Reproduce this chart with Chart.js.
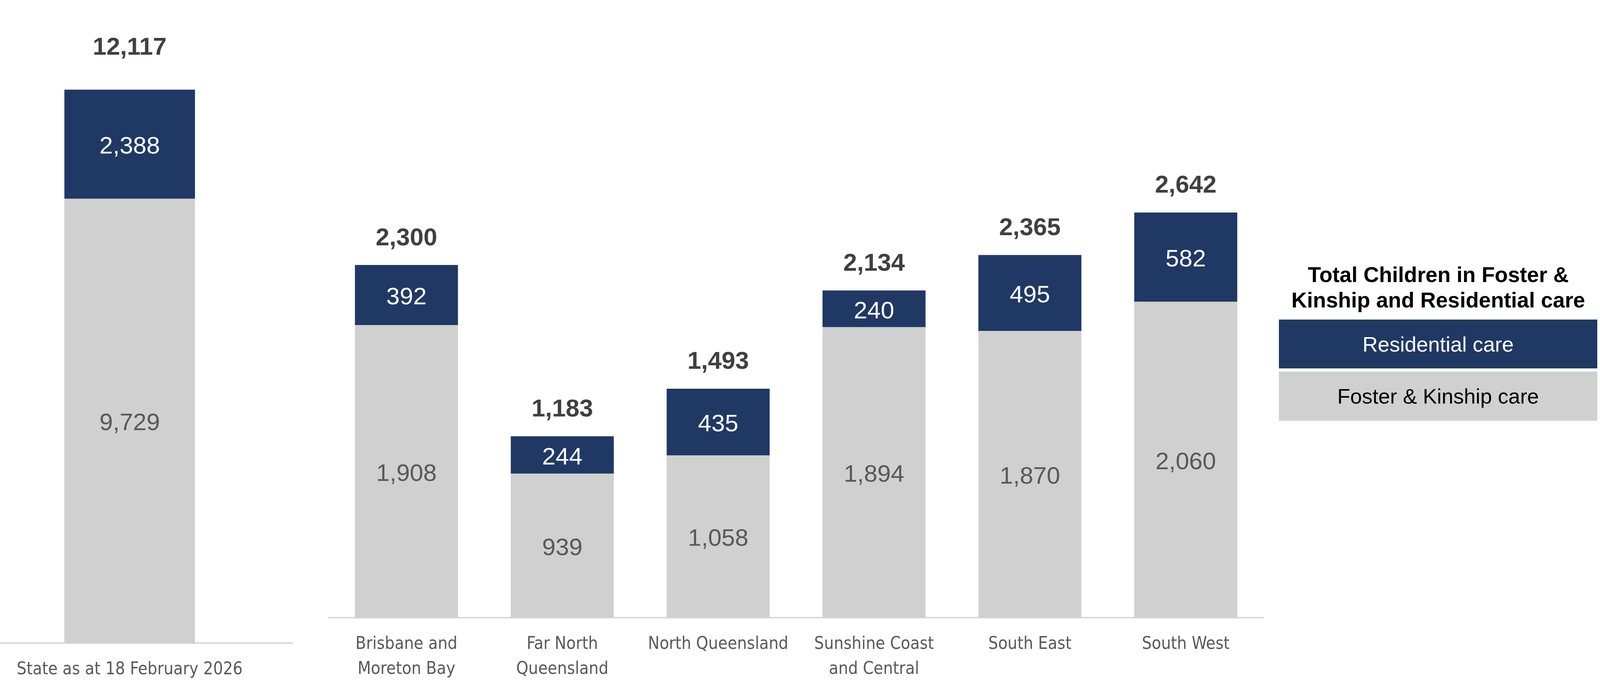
<!DOCTYPE html>
<html>
<head>
<meta charset="utf-8">
<script src="https://cdn.jsdelivr.net/npm/chart.js@4.4.1/dist/chart.umd.min.js"></script>
<style>
  html, body { margin: 0; padding: 0; background: #ffffff; width: 4138px; height: 1779px; overflow: hidden; }
  .box { position: absolute; }
  #stateWrap { left: -86px; top: 0; width: 836px; height: 1779px; }
  #regionWrap { left: 841px; top: 0; width: 2394px; height: 1779px; }
  #legendTitle {
    position: absolute; left: 3254px; width: 856px; top: 671px;
    text-align: center; font-family: 'Liberation Sans', Arial, sans-serif;
    font-weight: bold; font-size: 55px; line-height: 65px; color: #000000;
  }
  .legendItem {
    position: absolute; left: 3274px; width: 815px; height: 125px;
    font-family: 'Liberation Sans', Arial, sans-serif; font-size: 54px;
    display: flex; align-items: center; justify-content: center;
  }
</style>
</head>
<body>
<div class="box" id="stateWrap"><canvas id="stateChart" width="836" height="1779"></canvas></div>
<div class="box" id="regionWrap"><canvas id="regionChart" width="2394" height="1779"></canvas></div>
<div id="legendTitle">Total Children in Foster &amp;<br>Kinship and Residential care</div>
<div class="legendItem" id="legRes" style="top:818px; background:#203864; color:#ffffff;">Residential care</div>
<div class="legendItem" id="legFos" style="top:951px; height:126px; background:#d0d0d0; color:#000000;">Foster &amp; Kinship care</div>
<script>
// state totals
const stateLabels = ['State as at 18 February 2026'];
const stateResidential = [2388];
const stateFoster = [9729];

// regions
const regionLabels = [
    ['Brisbane and', 'Moreton Bay'],
    ['Far North', 'Queensland'],
    'North Queensland',
    ['Sunshine Coast', 'and Central'],
    'South East',
    'South West'
];
const regionResidential = [392, 244, 435, 240, 495, 582];
const regionFoster = [1908, 939, 1058, 1894, 1870, 2060];

const navy = '#203864';
const grey = '#d0d0d0';
const narrow = "'DejaVu Sans Condensed', 'DejaVu Sans', sans-serif";
const arial = "'Liberation Sans', Arial, sans-serif";

function fmt(v) {
    return v.toLocaleString('en-US');
}

// draws values inside segments and totals on top
const barLabels = {
    id: 'barLabels',
    afterDatasetsDraw(chart, args, opts) {
        const c = chart.ctx;
        c.save();
        c.textAlign = 'center';
        c.textBaseline = 'middle';
        const metas = chart.data.datasets.map((d, i) => chart.getDatasetMeta(i));
        metas.forEach((meta, di) => {
            const ds = chart.data.datasets[di];
            meta.data.forEach((bar, i) => {
                c.fillStyle = ds.labelColor;
                c.font = opts.innerFont;
                // digits sit a bit high with 'middle', nudge down
                c.fillText(fmt(ds.data[i]), bar.x, (bar.y + bar.base) / 2 + 7);
            });
        });
        // totals
        const top = metas[metas.length - 1];
        top.data.forEach((bar, i) => {
            let total = 0;
            chart.data.datasets.forEach(d => { total += d.data[i]; });
            c.fillStyle = '#404040';
            c.font = opts.totalFont;
            c.fillText(fmt(total), bar.x, bar.y - opts.offset);
        });
        c.restore();
    }
};

function makeChart(id, labels, foster, residential, yMax, barPct, axisH, offset) {
    const ctx = document.getElementById(id).getContext('2d');
    return new Chart(ctx, {
        type: 'bar',
        data: {
            labels: labels,
            datasets: [{
                label: 'Foster & Kinship care',
                data: foster,
                backgroundColor: grey,
                labelColor: '#595959',
                borderWidth: 0,
                categoryPercentage: 1,
                barPercentage: barPct
            }, {
                label: 'Residential care',
                data: residential,
                backgroundColor: navy,
                labelColor: '#ffffff',
                borderWidth: 0,
                categoryPercentage: 1,
                barPercentage: barPct
            }]
        },
        options: {
            responsive: false,
            animation: false,
            devicePixelRatio: 1,
            layout: { padding: 0 },
            plugins: {
                legend: { display: false },
                tooltip: { enabled: false },
                barLabels: {
                    innerFont: '62px ' + arial,
                    totalFont: 'bold 63px ' + arial,
                    offset: offset
                }
            },
            scales: {
                x: {
                    stacked: true,
                    grid: { display: false, drawTicks: false },
                    border: { display: true, color: '#d9d9d9', width: 4 },
                    ticks: {
                        color: '#595959',
                        padding: 37,
                        maxRotation: 0,
                        autoSkip: false,
                        font: { family: narrow, size: 44, lineHeight: 1.45 }
                    },
                    afterFit: function(scale) { scale.height = axisH; }
                },
                y: {
                    stacked: true,
                    display: false,
                    min: 0,
                    max: yMax
                }
            }
        },
        plugins: [barLabels]
    });
}

makeChart('stateChart', stateLabels, stateFoster, stateResidential, 14080, 0.4, 133, 107);
makeChart('regionChart', regionLabels, regionFoster, regionResidential, 4028, 0.661, 198, 68);
</script>
</body>
</html>
